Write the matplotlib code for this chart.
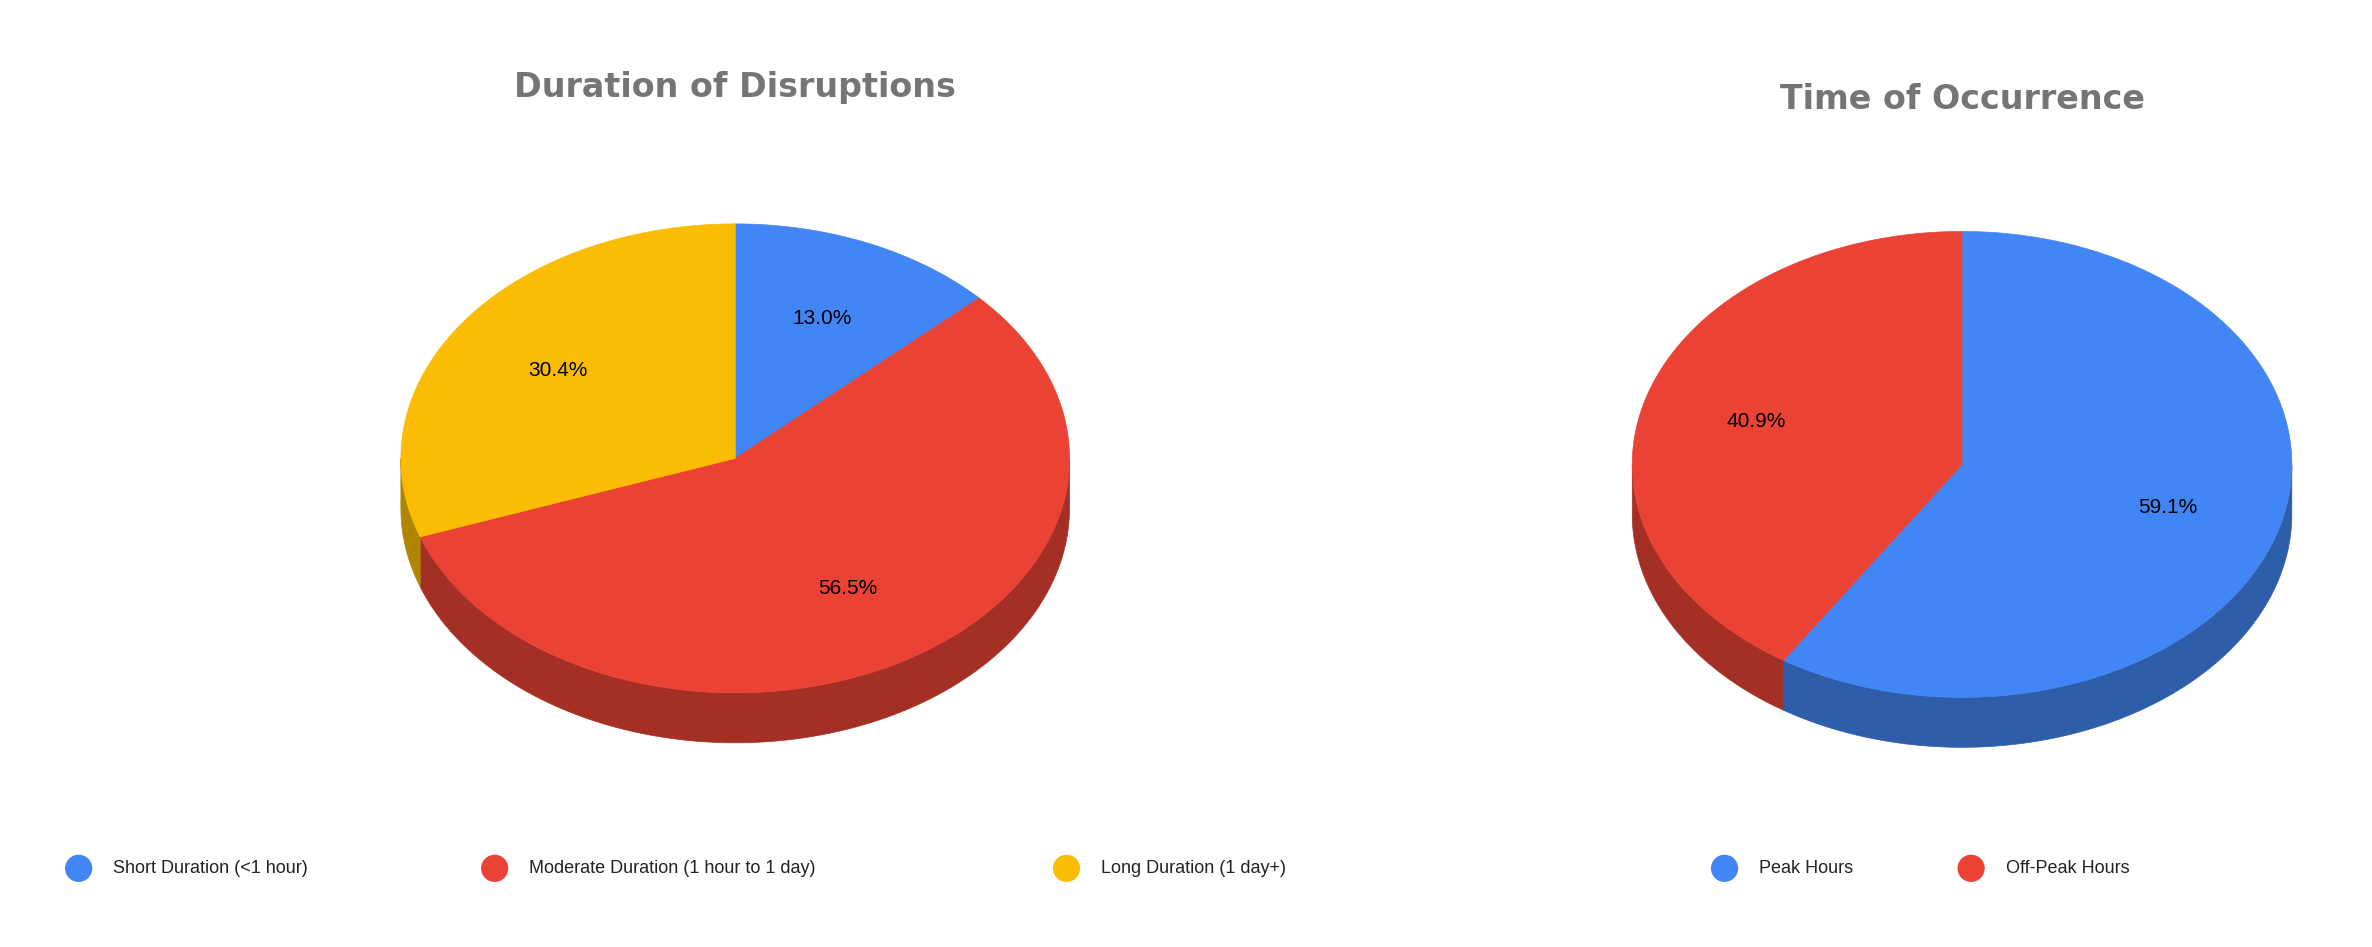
import numpy as np
import matplotlib
matplotlib.use("Agg")
import matplotlib.pyplot as plt
from matplotlib.patches import Polygon, Circle

plt.rcParams['font.family'] = ['Liberation Sans', 'DejaVu Sans']

# data
duracion_etiquetas = ["Short Duration (<1 hour)", "Moderate Duration (1 hour to 1 day)", "Long Duration (1 day+)"]
duracion_valores = [13.0, 56.5, 30.4]
horario_etiquetas = ["Peak Hours", "Off-Peak Hours"]
horario_valores = [59.1, 40.9]

AZUL, ROJO, AMARILLO = "#4285F4", "#EA4335", "#FBBC04"
OSCUROS = {AZUL: "#2E5DAA", ROJO: "#A42F25", AMARILLO: "#B08503"}
GRIS_TITULO = "#757575"

W, H = 1568, 626
fig = plt.figure(figsize=(23.72, 9.47), dpi=100)
ax = fig.add_axes([0, 0, 1, 1])
ax.set_xlim(0, W)
ax.set_ylim(H, 0)
ax.axis("off")


def punto(cx, cy, rx, ry, t):
    return cx + rx * np.cos(t), cy - ry * np.sin(t)


def pie_3d(cx, cy, rx, ry, prof, valores, colores):
    total = sum(valores)
    inicio = np.pi / 2
    cortes = []
    for v in valores:
        fin = inicio - 2 * np.pi * v / total
        cortes.append((inicio, fin))
        inicio = fin
    # caras laterales (mitad frontal)
    for (a, b), c in zip(cortes, colores):
        t = np.linspace(b, a, 400)
        frente = t[np.sin(t) < 0]
        frente = np.concatenate([frente, t[np.sin(t - 2 * np.pi) < 0][:0]])
        # normalizar angulos para el frente
        tt = np.mod(t, 2 * np.pi)
        mask = tt > np.pi
        if mask.sum() < 2:
            continue
        ts = t[mask]
        xs, ys = punto(cx, cy, rx, ry, ts)
        pts = list(zip(xs, ys)) + list(zip(xs[::-1], ys[::-1] + prof))
        ax.add_patch(Polygon(pts, closed=True, fc=OSCUROS[c], ec=OSCUROS[c], lw=0.5))
    # caras superiores
    for (a, b), c, v in zip(cortes, colores, valores):
        t = np.linspace(a, b, 300)
        xs, ys = punto(cx, cy, rx, ry, t)
        pts = [(cx, cy)] + list(zip(xs, ys))
        ax.add_patch(Polygon(pts, closed=True, fc=c, ec=c, lw=0.5))
        m = (a + b) / 2
        lx, ly = punto(cx, cy, rx * 0.65, ry * 0.65, m)
        ax.text(lx, ly, f"{v:.1f}%", ha="center", va="center", fontsize=15, color="black")


def leyenda(items, y):
    for x, etiqueta, c in items:
        ax.add_patch(Circle((x, y), 9, fc=c, ec="none"))
        ax.text(x + 23, y, etiqueta, ha="left", va="center", fontsize=13, color="#222222")


pie_3d(486, 303, 221, 155, 33, duracion_valores, [AZUL, ROJO, AMARILLO])
pie_3d(1297, 307, 218, 154, 33, horario_valores, [AZUL, ROJO])

ax.text(486, 58, "Duration of Disruptions", ha="center", va="center", fontsize=24,
        fontweight="bold", color=GRIS_TITULO, family=["DejaVu Sans"])
ax.text(1297, 66, "Time of Occurrence", ha="center", va="center", fontsize=24,
        fontweight="bold", color=GRIS_TITULO, family=["DejaVu Sans"])

leyenda([(52, duracion_etiquetas[0], AZUL), (327, duracion_etiquetas[1], ROJO),
         (705, duracion_etiquetas[2], AMARILLO)], 574)
leyenda([(1140, horario_etiquetas[0], AZUL), (1303, horario_etiquetas[1], ROJO)], 574)

fig.savefig("out.png", dpi=100)
